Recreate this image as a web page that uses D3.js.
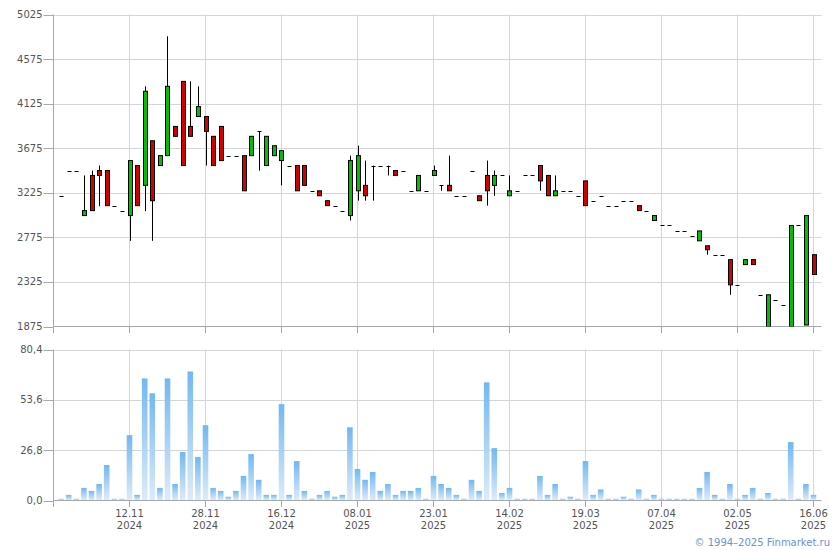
<!DOCTYPE html>
<html>
<head>
<meta charset="utf-8">
<script src="https://cdn.jsdelivr.net/npm/d3@7"></script>
<style>
html,body{margin:0;padding:0;background:#fff;}
svg{display:block;font-family:"DejaVu Sans",Verdana,sans-serif;}
</style>
</head>
<body>
<svg id="chart" width="840" height="550"></svg>
<script>
// ---- data (trading sessions 1..100) ----
const openP = [3195,3450,3450,2995,3400,3450,3450,3095,3045,2995,
3500,3300,3750,3500,3600,3895,4350,3895,3995,3995,
3795,3895,3600,3600,3600,3600,3845,3500,3600,3550,
3500,3500,3500,3245,3245,3145,3095,3045,2995,3245,
3300,3500,3500,3500,3450,3450,3245,3245,3245,3400,
3300,3300,3195,3195,3450,3195,3400,3300,3400,3195,
3245,3400,3400,3500,3400,3195,3245,3245,3195,3345,
3145,3195,3095,3095,3145,3145,3095,3045,2945,2895,
2895,2840,2840,2790,2740,2690,2600,2600,2550,2295,
2500,2550,2195,1870,2145,2095,1870,2895,1890,2600];
const highP = [3195,3450,3450,3400,3450,3500,3450,3095,3045,3550,
3500,4300,3750,3600,4805,3895,4350,4350,4300,3995,
3795,3895,3600,3600,3600,3795,3845,3795,3700,3650,
3500,3500,3500,3245,3245,3145,3095,3045,3600,3700,
3550,3500,3500,3500,3450,3450,3245,3400,3245,3500,
3300,3600,3195,3195,3450,3195,3550,3450,3400,3400,
3245,3400,3400,3500,3400,3400,3245,3245,3195,3345,
3145,3195,3095,3095,3145,3145,3095,3045,2995,2895,
2895,2840,2840,2790,2840,2690,2600,2600,2550,2295,
2550,2550,2195,2195,2145,2095,2895,2895,2995,2600];
const lowP = [3195,3450,3450,2995,3045,3090,3095,3095,3045,2740,
3095,3040,2740,3500,3600,3795,3500,3795,3995,3500,
3500,3550,3600,3600,3245,3600,3450,3500,3600,3300,
3500,3245,3300,3245,3195,3095,3095,3045,2945,3145,
3145,3145,3500,3400,3400,3450,3245,3245,3245,3400,
3245,3245,3195,3195,3450,3145,3095,3195,3400,3195,
3245,3400,3400,3245,3195,3195,3245,3245,3195,3095,
3145,3195,3095,3095,3145,3145,3045,3045,2945,2895,
2895,2840,2840,2790,2740,2600,2600,2600,2195,2295,
2500,2500,2195,1870,2145,2095,1870,2895,1890,2400];
const closeP = [3195,3450,3450,3045,3045,3400,3095,3095,3045,3550,
3095,4250,3145,3600,4300,3795,3500,3795,4095,3845,
3500,3550,3600,3600,3245,3795,3845,3795,3700,3650,
3500,3245,3300,3245,3195,3095,3095,3045,3550,3600,
3195,3500,3500,3500,3400,3450,3245,3400,3245,3450,
3300,3245,3195,3195,3450,3145,3245,3400,3400,3245,
3245,3400,3400,3345,3195,3245,3245,3245,3195,3095,
3145,3195,3095,3095,3145,3145,3045,3045,2995,2895,
2895,2840,2840,2790,2840,2650,2600,2600,2295,2295,
2550,2500,2195,2195,2145,2095,2895,2895,2995,2400];
const volume = [0.9,3.0,0.9,6.7,5.1,8.8,18.9,0.9,0.9,34.8,
3.0,65.0,57.1,6.7,65.0,8.8,25.8,68.7,23.2,40.1,
6.7,5.1,2.0,5.1,13.1,24.7,11.0,3.0,3.0,51.3,
3.0,21.0,5.1,0.9,3.0,5.1,2.0,3.0,39.0,16.8,
11.0,15.2,5.1,8.8,3.0,5.1,5.1,6.7,0.9,13.1,
8.8,6.7,3.0,0.9,11.0,5.1,62.9,27.9,4.0,6.7,
0.9,0.9,0.9,13.1,3.0,8.8,0.9,2.0,0.9,21.0,
3.0,5.9,0.9,0.9,2.0,0.9,5.9,0.9,3.0,0.9,
0.9,0.9,0.9,0.9,6.7,15.2,3.0,0.9,8.8,0.9,
3.0,6.7,0.9,4.0,0.9,0.9,31.1,0.9,8.8,3.0];
const tickIndex = [10,20,30,40,50,60,70,80,90,100];
const tickDay  = ["12.11","28.11","16.12","08.01","23.01","14.02","19.03","07.04","02.05","16.06"];
const tickYear = ["2024","2024","2024","2025","2025","2025","2025","2025","2025","2025"];
const priceTicks = [1875,2325,2775,3225,3675,4125,4575,5025];
const volTicks = [0,26.8,53.6,80.4];

const data = openP.map((o,k)=>({i:k+1,o:o,h:highP[k],l:lowP[k],c:closeP[k],v:volume[k]}));

// ---- layout ----
const svg = d3.select("#chart");
const L = 53.5, R = 821.5;
const x = d3.scaleLinear().domain([0,101]).range([L, L+7.6*101]);
const y = d3.scaleLinear().domain([1875,5025]).range([326.5,14.5]);
const yv = d3.scaleLinear().domain([0,80.4]).range([500.5,349.5]);
const gridC = "#d3d7dc", axisC = "#a4a8b2", textC = "#555";
const gridX = d3.range(0,101,10);
const fmtV = d => d.toFixed(1).replace(".", ",");

function panel(ys, ticks, fmt, top, bottom){
  const g = svg.append("g");
  // horizontal grid
  g.selectAll(".hg").data(ticks.slice(1)).join("line")
    .attr("x1",L).attr("x2",R).attr("y1",d=>Math.round(ys(d))+0.5).attr("y2",d=>Math.round(ys(d))+0.5)
    .attr("stroke",gridC).attr("stroke-width",1);
  // vertical grid
  g.selectAll(".vg").data(gridX.slice(1)).join("line")
    .attr("x1",d=>x(d)).attr("x2",d=>x(d)).attr("y1",top).attr("y2",bottom+6.5)
    .attr("stroke",gridC).attr("stroke-width",1);
  // axis lines
  g.append("line").attr("x1",L).attr("x2",R).attr("y1",bottom).attr("y2",bottom).attr("stroke",axisC);
  g.append("line").attr("x1",L).attr("x2",L).attr("y1",top).attr("y2",bottom+6.5).attr("stroke",axisC);
  g.selectAll(".xt").data(gridX.slice(1)).join("line")
    .attr("x1",d=>x(d)).attr("x2",d=>x(d)).attr("y1",bottom).attr("y2",bottom+6.5).attr("stroke",axisC);
  // y ticks & labels
  g.selectAll(".yt").data(ticks).join("line")
    .attr("x1",L-10).attr("x2",L).attr("y1",d=>Math.round(ys(d))+0.5).attr("y2",d=>Math.round(ys(d))+0.5)
    .attr("stroke",axisC);
  g.selectAll(".yl").data(ticks).join("text")
    .attr("x",L-11).attr("y",d=>ys(d)).attr("dy","0.35em").attr("text-anchor","end")
    .attr("font-size","10px").attr("fill",textC).text(fmt);
  return g;
}

panel(y, priceTicks, d=>String(d), 14.5, 326.5);
panel(yv, volTicks, fmtV, 349.5, 500.5);

// ---- candles ----
svg.append("clipPath").attr("id","pc").append("rect")
  .attr("x",L).attr("y",14).attr("width",R-L).attr("height",312.5);
const cg = svg.append("g").attr("clip-path","url(#pc)");
cg.selectAll(".wick").data(data.filter(d=>d.h!==d.l)).join("line")
  .attr("x1",d=>Math.round(x(d.i))+0.5).attr("x2",d=>Math.round(x(d.i))+0.5)
  .attr("y1",d=>y(d.h)).attr("y2",d=>y(d.l))
  .attr("stroke","#000").attr("stroke-width",1);
cg.selectAll(".body").data(data.filter(d=>d.o!==d.c)).join("rect")
  .attr("x",d=>Math.round(x(d.i))-1.5).attr("width",4)
  .attr("y",d=>y(Math.max(d.o,d.c))).attr("height",d=>Math.abs(y(d.o)-y(d.c)))
  .attr("fill",d=>d.c>d.o?"#00c000":"#d40000").attr("stroke","#000").attr("stroke-width",1);
cg.selectAll(".doji").data(data.filter(d=>d.o===d.c)).join("line")
  .attr("x1",d=>Math.round(x(d.i))-1.5).attr("x2",d=>Math.round(x(d.i))+2.5)
  .attr("y1",d=>Math.round(y(d.c))+0.5).attr("y2",d=>Math.round(y(d.c))+0.5)
  .attr("stroke","#000").attr("stroke-width",1);

// ---- volume ----
const grad = svg.append("defs").append("linearGradient").attr("id","vg")
  .attr("x1",0).attr("y1",0).attr("x2",0).attr("y2",1);
grad.append("stop").attr("offset","0%").attr("stop-color","#72b8f0");
grad.append("stop").attr("offset","100%").attr("stop-color","#deebf9");
svg.append("g").selectAll("rect").data(data).join("rect")
  .attr("x",d=>x(d.i)-2.8).attr("width",5.6)
  .attr("y",d=>yv(d.v)).attr("height",d=>yv(0)-yv(d.v)-0.5)
  .attr("fill","url(#vg)");

// ---- x labels ----
const xl = svg.append("g").attr("font-size","10px").attr("fill",textC).attr("text-anchor","middle");
xl.selectAll(".d").data(tickIndex).join("text").attr("x",d=>x(d)).attr("y",517).text((d,k)=>tickDay[k]);
xl.selectAll(".yr").data(tickIndex).join("text").attr("x",d=>x(d)).attr("y",529).text((d,k)=>tickYear[k]);

svg.append("text").attr("x",830).attr("y",546).attr("text-anchor","end")
  .attr("font-size","10px").attr("fill","#6a92d8").text("© 1994–2025 Finmarket.ru");
</script>
</body>
</html>
